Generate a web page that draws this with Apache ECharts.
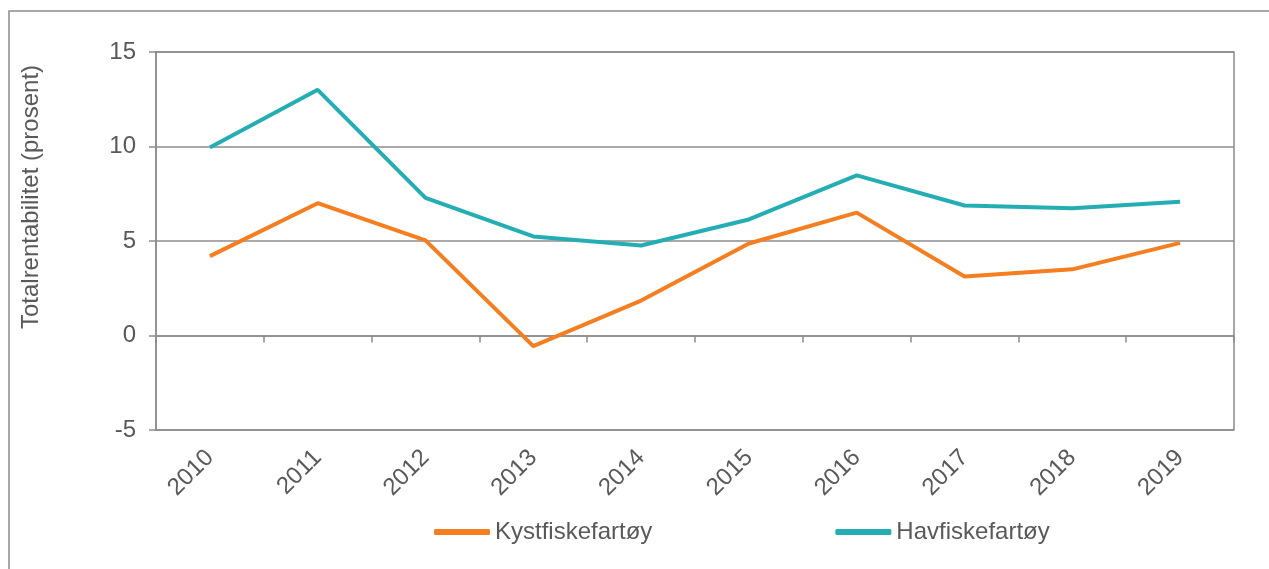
<!DOCTYPE html>
<html>
<head>
<meta charset="utf-8">
<script src="https://cdn.jsdelivr.net/npm/echarts@6/dist/echarts.min.js"></script>
<style>
html,body{margin:0;padding:0;background:#fff;}
#c{width:1269px;height:569px;}
</style>
</head>
<body>
<div id="c"></div>
<script>
const years = ['2010','2011','2012','2013','2014','2015','2016','2017','2018','2019'];
const kystfiske = [4.2, 7.0, 5.03, -0.56, 1.85, 4.87, 6.5, 3.12, 3.5, 4.9];
const havfiske = [9.95, 13.0, 7.28, 5.24, 4.76, 6.14, 8.47, 6.88, 6.73, 7.08];
const yTicks = { min: -5, max: 15, interval: 5 };
const yName = 'Totalrentabilitet (prosent)';

const gray = '#8c8c8c';
const txt = '#595959';
const font = 'Liberation Sans, Arial, sans-serif';
const fs = 24;

const chart = echarts.init(document.getElementById('c'));
chart.setOption({
  animation: false,
  backgroundColor: '#fff',
  textStyle: { fontFamily: font },
  graphic: [
    { type: 'rect', shape: { x: 9, y: 11, width: 1400, height: 700 }, style: { fill: 'none', stroke: gray, lineWidth: 1.5 }, silent: true },
    { type: 'text', x: 31, y: 197, rotation: Math.PI / 2, style: { text: yName, fill: txt, font: fs + 'px ' + font, align: 'center', verticalAlign: 'middle' } }
  ],
  grid: { left: 156, right: 35, top: 52, bottom: 139, show: true, borderColor: gray, borderWidth: 1.5, containLabel: false },
  legend: {
    left: 429, top: 515, itemWidth: 56, itemHeight: 6, itemGap: 183, icon: 'roundRect',
    textStyle: { color: txt, fontSize: fs, fontFamily: font },
    data: ['Kystfiskefartøy', 'Havfiskefartøy']
  },
  xAxis: [
    {
      type: 'category', data: years, position: 'bottom', boundaryGap: true,
      axisLine: { show: false, onZero: false },
      axisTick: { show: false },
      axisLabel: { rotate: 45, interval: 0, color: txt, fontSize: fs, fontFamily: font, margin: 24 }
    },
    {
      type: 'category', data: years, position: 'bottom', boundaryGap: true,
      axisLine: { show: true, onZero: true, onZeroAxisIndex: 0, lineStyle: { color: gray, width: 1.5 } },
      axisTick: { show: true, length: 7, lineStyle: { color: gray, width: 1.5 } },
      axisLabel: { show: false }
    }
  ],
  yAxis: {
    type: 'value', min: yTicks.min, max: yTicks.max, interval: yTicks.interval,
    axisLine: { show: true, lineStyle: { color: gray, width: 1.5 } },
    axisTick: { show: true, length: 7, lineStyle: { color: gray, width: 1.5 } },
    axisLabel: { color: txt, fontSize: fs, fontFamily: font, margin: 20 },
    splitLine: { show: true, lineStyle: { color: gray, width: 1.5 } }
  },
  series: [
    { name: 'Kystfiskefartøy', type: 'line', data: kystfiske, xAxisIndex: 0, symbol: 'none', lineStyle: { color: '#F47E20', width: 4 }, itemStyle: { color: '#F47E20' } },
    { name: 'Havfiskefartøy', type: 'line', data: havfiske, xAxisIndex: 0, symbol: 'none', lineStyle: { color: '#24AEB3', width: 4 }, itemStyle: { color: '#24AEB3' } }
  ]
});
</script>
</body>
</html>
